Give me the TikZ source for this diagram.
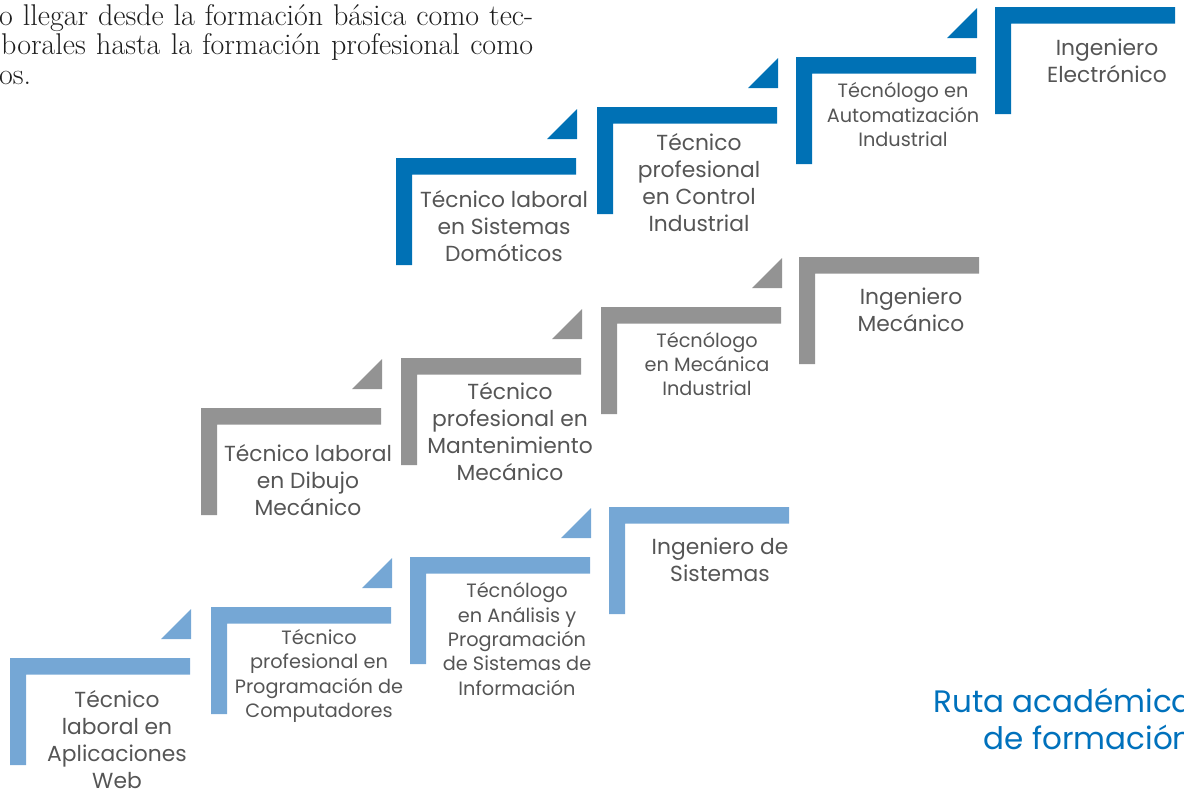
\documentclass[tikz,border=0pt]{standalone}
\usepackage{fontspec}
\newfontfamily\mont{Poppins}
\definecolor{dblue}{HTML}{0071B5}
\definecolor{gbar}{HTML}{939393}
\definecolor{lblue}{HTML}{75A7D5}
\definecolor{txt}{HTML}{555555}
\definecolor{ttl}{HTML}{0071BC}
\definecolor{introtxt}{HTML}{1E1E1E}
\newcommand\stairL[3]{\fill[#1] (#2,#3) -- ++(180,0) -- ++(0,16.5) -- ++(-164,0) -- ++(0,90.5) -- ++(-16,0) -- cycle;}
\newcommand\stairT[3]{\fill[#1] (#2+181,#3-19) -- ++(0,-30) -- ++(-30,30) -- cycle;}
\begin{document}
\begin{tikzpicture}[x=1pt,y=-1pt,
  lab/.style={font=\mont\fontsize{21.8}{27}\selectfont, text=txt, align=center, inner sep=0},
  labs/.style={font=\mont\fontsize{19.3}{24.3}\selectfont, text=txt, align=center, inner sep=0},
  intro/.style={font=\fontsize{30}{30}\selectfont, text=introtxt, inner sep=0, anchor=base west},
  ttlstyle/.style={font=\mont\fontsize{31}{37}\selectfont, text=ttl, align=right, inner sep=0, anchor=north east}]
\useasboundingbox (0,0) rectangle (1184,790);
\clip (0,0) rectangle (1184,790);
% intro text
\node[intro] (i1) at (-1,25) {\makebox[534pt][s]{o llegar desde la formación básica como tec-}};
\node[intro] (i2) at (1,54) {\makebox[532pt][s]{borales hasta la formación profesional como}};
\node[intro] (i3) at (-1,84) {os.};
% dark blue stairs
\stairL{dblue}{396}{158}
\stairT{dblue}{396}{158}
\stairL{dblue}{597}{107}
\stairT{dblue}{597}{107}
\stairL{dblue}{796}{57}
\stairT{dblue}{796}{57}
\stairL{dblue}{995}{7}
% gray stairs
\stairL{gbar}{201}{408}
\stairT{gbar}{201}{408}
\stairL{gbar}{401}{358}
\stairT{gbar}{401}{358}
\stairL{gbar}{601}{307}
\stairT{gbar}{601}{307}
\stairL{gbar}{799}{257}
% light blue stairs
\stairL{lblue}{10}{658}
\stairT{lblue}{10}{658}
\stairL{lblue}{211}{607}
\stairT{lblue}{211}{607}
\stairL{lblue}{410}{557}
\stairT{lblue}{410}{557}
\stairL{lblue}{609}{507}
% labels dark blue
\node[lab] (d1) at (504,226) {Técnico laboral\\en Sistemas\\Domóticos};
\node[lab] (d2) at (699,182.5) {Técnico\\profesional\\en Control\\Industrial};
\node[labs] (d3) at (903,114.5) {Técnólogo en\\Automatización\\Industrial};
\node[lab] (d4) at (1107,60.5) {Ingeniero\\Electrónico};
% labels gray
\node[lab] (g1) at (308,480) {Técnico laboral\\en Dibujo\\Mecánico};
\node[lab] (g2) at (510,432) {Técnico\\profesional en\\Mantenimiento\\Mecánico};
\node[labs] (g3) at (707,364) {Técnólogo\\en Mecánica\\Industrial};
\node[lab] (g4) at (911,310) {Ingeniero\\Mecánico};
% labels light blue
\node[lab] (l1) at (117,740) {Técnico\\laboral en\\Aplicaciones\\Web};
\node[labs] (l2) at (319,676) {Técnico\\profesional en\\Programación de\\Computadores};
\node[labs] (l3) at (517,639) {Técnólogo\\en Análisis y\\Programación\\de Sistemas de\\Información};
\node[lab] (l4) at (720,560) {Ingeniero de\\Sistemas};
% title
\node[ttlstyle] (title) at (1193,688) {Ruta académica\\de formación};
\end{tikzpicture}
\end{document}
